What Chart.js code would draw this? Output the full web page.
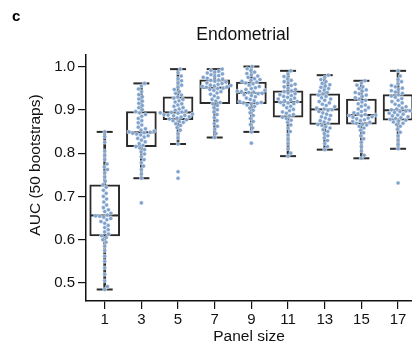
<!DOCTYPE html>
<html lang="en">
<head>
  <meta charset="UTF-8" />
  <title>Endometrial</title>
  <script src="https://cdn.jsdelivr.net/npm/chart.js"></script>
  <style>
    html, body { margin: 0; padding: 0; background: #fff; overflow: hidden; }
    canvas { display: block; }
  </style>
</head>
<body>
  <canvas id="aucChart" width="412" height="346"></canvas>

  <script>
    const panelSizes = [1, 3, 5, 7, 9, 11, 13, 15, 17];
    const yTicks = [0.5, 0.6, 0.7, 0.8, 0.9, 1.0];

    // box stats
    const q1 = [0.609, 0.815, 0.877, 0.914, 0.914, 0.883, 0.866, 0.867, 0.876];
    const medians = [0.656, 0.848, 0.894, 0.951, 0.939, 0.918, 0.901, 0.888, 0.899];
    const q3 = [0.727, 0.896, 0.930, 0.969, 0.964, 0.944, 0.937, 0.925, 0.935];
    const whiskerLow = [0.485, 0.742, 0.821, 0.836, 0.849, 0.793, 0.808, 0.788, 0.810];
    const whiskerHigh = [0.849, 0.961, 0.994, 0.994, 1.0, 0.990, 0.980, 0.967, 0.990];

    // 50 bootstrap AUCs per panel size
    const aucP1 = [0.485, 0.492, 0.505, 0.52, 0.535, 0.55, 0.562, 0.575, 0.585, 0.594, 0.600, 0.605,
      0.609, 0.613, 0.618, 0.623, 0.628, 0.633, 0.638, 0.642, 0.646, 0.649, 0.652, 0.654,
      0.655, 0.657, 0.661, 0.665, 0.669, 0.674, 0.68, 0.687, 0.694, 0.700, 0.707, 0.714, 0.721,
      0.727, 0.735, 0.745, 0.755, 0.762, 0.768, 0.775, 0.785, 0.795, 0.805, 0.825, 0.838, 0.849];
    const aucP3 = [0.685, 0.742, 0.752, 0.762, 0.77, 0.778, 0.785, 0.792, 0.798, 0.803, 0.808, 0.812,
      0.815, 0.818, 0.822, 0.826, 0.83, 0.834, 0.837, 0.84, 0.842, 0.844, 0.846, 0.847,
      0.848, 0.849, 0.851, 0.853, 0.856, 0.86, 0.865, 0.87, 0.875, 0.88, 0.885, 0.889, 0.893,
      0.896, 0.900, 0.905, 0.91, 0.915, 0.92, 0.925, 0.93, 0.935, 0.942, 0.948, 0.955, 0.961];
    const aucP5 = [0.742, 0.757, 0.821, 0.835, 0.845, 0.853, 0.859, 0.864, 0.868, 0.871, 0.873, 0.875,
      0.877, 0.879, 0.881, 0.883, 0.884, 0.886, 0.887, 0.888, 0.889, 0.890, 0.892, 0.893,
      0.894, 0.895, 0.897, 0.899, 0.902, 0.905, 0.908, 0.911, 0.914, 0.918, 0.921, 0.924, 0.927,
      0.930, 0.934, 0.938, 0.942, 0.947, 0.952, 0.957, 0.962, 0.967, 0.972, 0.978, 0.986, 0.994];
    const aucP7 = [0.836, 0.845, 0.855, 0.862, 0.868, 0.875, 0.882, 0.889, 0.895, 0.900, 0.905, 0.910,
      0.914, 0.917, 0.92, 0.924, 0.928, 0.932, 0.936, 0.939, 0.942, 0.945, 0.947, 0.949,
      0.950, 0.952, 0.953, 0.954, 0.955, 0.956, 0.957, 0.959, 0.961, 0.962, 0.964, 0.966, 0.968,
      0.969, 0.971, 0.973, 0.975, 0.977, 0.979, 0.981, 0.983, 0.985, 0.987, 0.989, 0.991, 0.994];
    const aucP9 = [0.823, 0.849, 0.858, 0.866, 0.873, 0.88, 0.887, 0.893, 0.899, 0.904, 0.908, 0.911,
      0.914, 0.915, 0.916, 0.917, 0.919, 0.921, 0.924, 0.927, 0.93, 0.933, 0.935, 0.937,
      0.938, 0.940, 0.941, 0.942, 0.943, 0.945, 0.947, 0.949, 0.951, 0.954, 0.957, 0.96, 0.962,
      0.964, 0.966, 0.968, 0.97, 0.972, 0.975, 0.978, 0.981, 0.984, 0.987, 0.991, 0.995, 1.0];
    const aucP11 = [0.793, 0.80, 0.81, 0.822, 0.832, 0.842, 0.85, 0.858, 0.865, 0.871, 0.876, 0.880,
      0.883, 0.886, 0.889, 0.892, 0.895, 0.898, 0.901, 0.905, 0.908, 0.911, 0.914, 0.916,
      0.917, 0.919, 0.921, 0.923, 0.925, 0.927, 0.929, 0.931, 0.933, 0.935, 0.937, 0.939, 0.942,
      0.944, 0.947, 0.95, 0.953, 0.956, 0.959, 0.962, 0.965, 0.968, 0.972, 0.977, 0.983, 0.990];
    const aucP13 = [0.808, 0.815, 0.822, 0.829, 0.835, 0.84, 0.845, 0.85, 0.854, 0.858, 0.861, 0.864,
      0.866, 0.869, 0.872, 0.875, 0.878, 0.881, 0.884, 0.887, 0.890, 0.893, 0.896, 0.899,
      0.900, 0.902, 0.904, 0.907, 0.91, 0.913, 0.916, 0.919, 0.922, 0.925, 0.928, 0.931, 0.934,
      0.937, 0.940, 0.943, 0.946, 0.949, 0.952, 0.955, 0.958, 0.961, 0.965, 0.97, 0.975, 0.980];
    const aucP15 = [0.788, 0.795, 0.805, 0.815, 0.825, 0.833, 0.84, 0.847, 0.853, 0.858, 0.862, 0.865,
      0.867, 0.869, 0.871, 0.873, 0.875, 0.877, 0.879, 0.881, 0.883, 0.884, 0.886, 0.887,
      0.888, 0.889, 0.891, 0.893, 0.896, 0.899, 0.902, 0.905, 0.908, 0.911, 0.914, 0.918, 0.922,
      0.925, 0.928, 0.931, 0.934, 0.937, 0.940, 0.943, 0.946, 0.949, 0.953, 0.957, 0.962, 0.967];
    const aucP17 = [0.731, 0.810, 0.820, 0.830, 0.840, 0.848, 0.855, 0.862, 0.866, 0.869, 0.872, 0.874,
      0.876, 0.878, 0.88, 0.882, 0.884, 0.886, 0.888, 0.89, 0.892, 0.894, 0.896, 0.897,
      0.898, 0.900, 0.902, 0.904, 0.907, 0.91, 0.913, 0.916, 0.919, 0.922, 0.926, 0.929, 0.932,
      0.935, 0.938, 0.941, 0.944, 0.947, 0.950, 0.953, 0.956, 0.96, 0.965, 0.97, 0.978, 0.990];
    const aucByPanel = [aucP1, aucP3, aucP5, aucP7, aucP9, aucP11, aucP13, aucP15, aucP17];

    const FONT = '"Liberation Sans", Arial, sans-serif';
    const INK = '#2b2b2b';
    const DOT = '#7fa2cd';
    Chart.defaults.font.family = FONT;
    Chart.defaults.color = '#111';

    // spread the dots sideways so they don't overlap (beeswarm)
    const swarmPlugin = {
      id: 'swarm',
      afterDatasetsUpdate(chart) {
        const d = 4.1;
        chart.data.datasets.forEach((ds, i) => {
          if (!ds.swarm) return;
          const pts = chart.getDatasetMeta(i).data.slice().sort((a, b) => b.y - a.y);
          const placed = [];
          pts.forEach(pt => {
            const near = placed.filter(q => Math.abs(q.y - pt.y) < d);
            const cands = [0];
            near.forEach(q => {
              const dx = Math.sqrt(d * d - (q.y - pt.y) ** 2);
              cands.push(q.dx + dx, q.dx - dx);
            });
            cands.sort((a, b) => Math.abs(a) - Math.abs(b));
            const off = cands.find(c => near.every(q => (q.dx - c) ** 2 + (q.y - pt.y) ** 2 >= d * d - 0.01));
            placed.push({ y: pt.y, dx: off });
            pt.x += off;
          });
        });
      }
    };

    // panel letter, title and y label
    const textPlugin = {
      id: 'panelText',
      afterDraw(chart) {
        const ctx = chart.ctx;
        ctx.save();
        ctx.fillStyle = '#000';
        ctx.textBaseline = 'alphabetic';
        ctx.font = 'bold 15px ' + FONT;
        ctx.fillText('c', 12, 20.5);
        ctx.fillStyle = '#111';
        ctx.font = '17.5px ' + FONT;
        ctx.textAlign = 'center';
        ctx.fillText('Endometrial', 243, 40);
        ctx.font = '15.5px ' + FONT;
        ctx.translate(40, 165);
        ctx.rotate(-Math.PI / 2);
        ctx.fillText('AUC (50 bootstraps)', 0, 0);
        ctx.restore();
      }
    };

    const pointSets = panelSizes.map((p, i) => ({
      type: 'scatter',
      label: 'AUC panel ' + p,
      swarm: true,
      data: aucByPanel[i].map(v => ({ x: p, y: v })),
      pointRadius: 2.05,
      backgroundColor: DOT,
      borderColor: 'rgba(255,255,255,0.9)',
      borderWidth: 0.5,
      order: 0
    }));

    new Chart(document.getElementById('aucChart'), {
      type: 'scatter',
      data: {
        datasets: [
          ...pointSets,
          {
            type: 'scatter',
            label: 'median',
            data: panelSizes.map((p, i) => ({ x: p, y: medians[i] })),
            pointStyle: 'line',
            pointRadius: 14.5,
            borderColor: INK,
            borderWidth: 2,
            order: 1
          },
          {
            type: 'scatter',
            label: 'caps',
            data: panelSizes.map((p, i) => ({ x: p, y: whiskerLow[i] }))
              .concat(panelSizes.map((p, i) => ({ x: p, y: whiskerHigh[i] }))),
            pointStyle: 'line',
            pointRadius: 8,
            borderColor: INK,
            borderWidth: 2,
            order: 1
          },
          {
            type: 'bar',
            label: 'box',
            data: panelSizes.map((p, i) => ({ x: p, y: [q1[i], q3[i]] })),
            barThickness: 30,
            grouped: false,
            backgroundColor: '#fff',
            borderColor: INK,
            borderWidth: 2,
            borderSkipped: false,
            order: 2
          },
          {
            type: 'bar',
            label: 'whisker',
            data: panelSizes.map((p, i) => ({ x: p, y: [whiskerLow[i], whiskerHigh[i]] })),
            barThickness: 2,
            grouped: false,
            backgroundColor: INK,
            borderWidth: 0,
            order: 3
          }
        ]
      },
      options: {
        responsive: false,
        animation: false,
        events: [],
        layout: { autoPadding: false, padding: { top: 55, right: 0, bottom: 0, left: 0 } },
        plugins: {
          legend: { display: false },
          tooltip: { enabled: false }
        },
        scales: {
          x: {
            type: 'linear',
            offset: false,
            min: -0.02,
            max: 17.76,
            afterBuildTicks: s => { s.ticks = panelSizes.map(v => ({ value: v })); },
            afterFit: s => { s.height = 45; s.paddingLeft = 0; s.paddingRight = 0; },
            ticks: { font: { size: 15 }, color: '#111', padding: 2, maxRotation: 0 },
            grid: { offset: false, drawOnChartArea: false, drawTicks: true, tickLength: 8, color: '#111', lineWidth: 1.2 },
            border: { display: true, color: '#111', width: 1.5 },
            title: { display: true, text: 'Panel size', font: { size: 15.5 }, color: '#111', padding: { top: 0, bottom: 0 } }
          },
          y: {
            min: 0.4584,
            max: 1.0266,
            afterBuildTicks: s => { s.ticks = yTicks.map(v => ({ value: v })); },
            afterFit: s => { s.width = 86; s.paddingTop = 0; s.paddingBottom = 0; },
            ticks: { font: { size: 15 }, color: '#111', padding: 3, callback: v => v.toFixed(1) },
            grid: { drawOnChartArea: false, drawTicks: true, tickLength: 8, color: '#111', lineWidth: 1.2 },
            border: { display: true, color: '#111', width: 1.5 }
          }
        }
      },
      plugins: [swarmPlugin, textPlugin]
    });
  </script>
</body>
</html>
